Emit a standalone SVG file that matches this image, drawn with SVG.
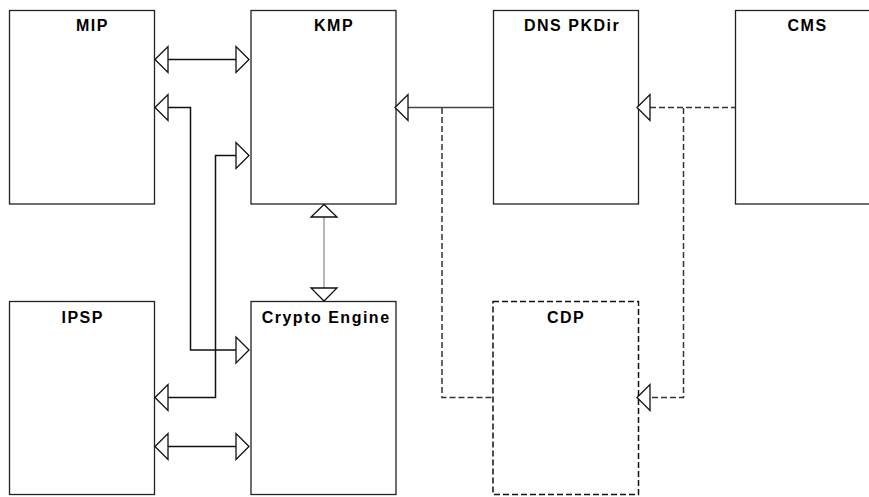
<svg xmlns="http://www.w3.org/2000/svg" width="869" height="497" viewBox="0 0 869 497">
<style>
.box{fill:#fff;stroke:#222;stroke-width:1.3}
.dbox{fill:#fff;stroke:#111;stroke-width:1.5;stroke-dasharray:6,3}
.lbl{font-family:"Liberation Sans",Arial,sans-serif;font-weight:bold;font-size:16px;letter-spacing:1.5px;fill:#000}
.ln{fill:none;stroke:#111;stroke-width:1.5}
.gl{fill:none;stroke:#888;stroke-width:1.2}
.dl{fill:none;stroke:#333;stroke-width:1.5;stroke-dasharray:6,3}
.ah{fill:#fff;stroke:#111;stroke-width:1.3;stroke-linejoin:miter}
</style>
<rect width="869" height="497" fill="#fff"/>
<g id="MIP"><rect class="box" x="9.5" y="10.5" width="145" height="193.5"/><text class="lbl" x="76" y="30.5">MIP</text></g>
<g id="KMP"><rect class="box" x="251" y="10.5" width="145" height="193.5"/><text class="lbl" x="314" y="30.5">KMP</text></g>
<g id="DNSPKDir"><rect class="box" x="493.5" y="10.5" width="145" height="193.5"/><text class="lbl" x="524" y="30.5">DNS PKDir</text></g>
<g id="CMS"><rect class="box" x="735.5" y="10.5" width="145" height="193.5"/><text class="lbl" x="787.5" y="30.5">CMS</text></g>
<g id="IPSP"><rect class="box" x="9.5" y="301.5" width="145" height="193"/><text class="lbl" x="61.5" y="322.7">IPSP</text></g>
<g id="CryptoEngine"><rect class="box" x="251" y="301.5" width="145" height="193"/><text class="lbl" x="261.7" y="322.7">Crypto Engine</text></g>
<g id="CDP"><rect class="dbox" x="493" y="301.5" width="145.5" height="193"/><text class="lbl" x="547" y="322.7">CDP</text></g>
<g id="connectors">
<line class="ln" x1="168" y1="59.5" x2="236" y2="59.5"/>
<polygon class="ah" points="155,59.5 168,46.5 168,72.5"/>
<polygon class="ah" points="249,59.5 236,46.5 236,72.5"/>
<polyline class="ln" points="168,107.5 190.5,107.5 190.5,350 236,350"/>
<polygon class="ah" points="155,107.5 168,94.5 168,120.5"/>
<polygon class="ah" points="249,350 236,337 236,363"/>
<polyline class="ln" points="236,155.5 215.5,155.5 215.5,397.5 168,397.5"/>
<polygon class="ah" points="249,155.5 236,142.5 236,168.5"/>
<polygon class="ah" points="155,397.5 168,384.5 168,410.5"/>
<line class="ln" x1="168" y1="446.5" x2="236" y2="446.5"/>
<polygon class="ah" points="155,446.5 168,433.5 168,459.5"/>
<polygon class="ah" points="249,446.5 236,433.5 236,459.5"/>
<line class="gl" x1="324" y1="217" x2="324" y2="288"/>
<polygon class="ah" points="324,204.5 311,217 337,217"/>
<polygon class="ah" points="324,301 311,288 337,288"/>
<line class="ln" x1="408" y1="107.5" x2="493.5" y2="107.5" style="stroke:#444"/>
<polygon class="ah" points="395,107.5 408,94.5 408,120.5"/>
<polyline class="dl" points="442,108 442,397.5 493,397.5"/>
<line class="dl" x1="650" y1="107.5" x2="735.5" y2="107.5"/>
<polygon class="ah" points="637,107.5 650,94.5 650,120.5"/>
<polyline class="dl" points="683.5,108 683.5,397.5 650,397.5"/>
<polygon class="ah" points="637,397.5 650,384.5 650,410.5"/>
</g>
</svg>
